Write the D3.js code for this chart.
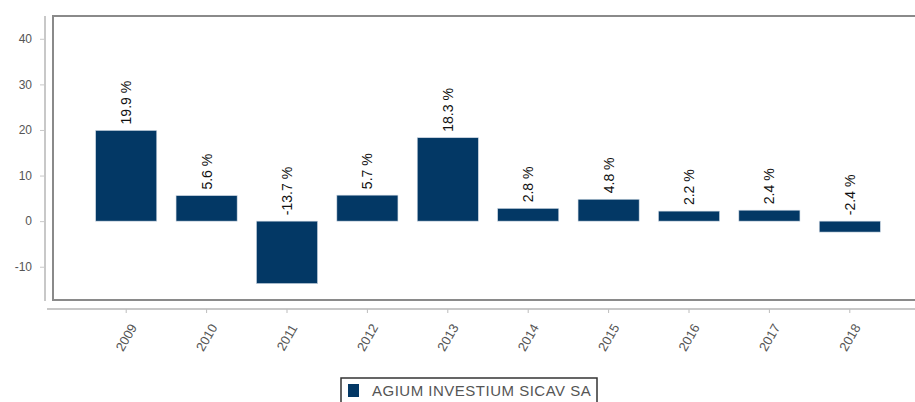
<!DOCTYPE html>
<html>
  <head>
    <meta charset="utf-8">
    <style>
      body { margin: 0; background: #fff; }
      svg { display: block; font-family: "Liberation Sans", Arial, sans-serif; }
    </style>
  </head>
  <body>
    <svg width="915" height="402"></svg>
    <script src="https://cdn.jsdelivr.net/npm/d3@7"></script>
    <script>
      var years = ["2009", "2010", "2011", "2012", "2013", "2014", "2015", "2016", "2017", "2018"];
      var returns = [19.9, 5.6, -13.7, 5.7, 18.3, 2.8, 4.8, 2.2, 2.4, -2.4];
      var yTicks = [-10, 0, 10, 20, 30, 40];
      var seriesName = "AGIUM INVESTIUM SICAV SA";

      var svg = d3.select("svg");
      var navy = "#033865";

      var y = d3.scaleLinear().domain([-17.3, 45]).range([300, 16]);
      var x = d3.scaleBand()
        .domain(years)
        .range([86, 890])
        .paddingInner(0.24)
        .paddingOuter(0.12);

      // plot frame
      svg.append("rect")
        .attr("x", 53).attr("y", 16)
        .attr("width", 880).attr("height", 284)
        .attr("fill", "none")
        .attr("stroke", "#8a8a8a")
        .attr("stroke-width", 2);

      // y axis
      var yAxis = svg.append("g")
        .attr("transform", "translate(45,0)")
        .call(d3.axisLeft(y).tickValues(yTicks).tickSize(5).tickPadding(8)
          .tickFormat(function(d) { return String(d); }));
      yAxis.select(".domain").attr("d", "M0,16V301").attr("stroke", "#c8c8c8").attr("stroke-width", 2);
      yAxis.selectAll(".tick line").attr("stroke", "#c8c8c8");
      yAxis.selectAll(".tick text")
        .attr("fill", "#555")
        .attr("font-size", 12)
        .attr("font-family", "Liberation Sans, Arial, sans-serif");

      // x axis
      var xAxis = svg.append("g")
        .attr("transform", "translate(0,309)")
        .call(d3.axisBottom(x).tickSize(4).tickSizeOuter(0));
      xAxis.select(".domain").attr("d", "M47,0H915").attr("stroke", "#c8c8c8").attr("stroke-width", 2);
      xAxis.selectAll(".tick line").attr("stroke", "#bdbdbd");
      xAxis.selectAll(".tick text")
        .attr("fill", "#555")
        .attr("font-size", 13)
        .attr("font-family", "Liberation Sans, Arial, sans-serif")
        .attr("text-anchor", "middle")
        .attr("dy", null)
        .attr("y", null)
        .attr("transform", "translate(1,29) rotate(-60)")
        .attr("dominant-baseline", "middle");

      var data = years.map(function(d, i) { return { year: d, value: returns[i] }; });

      svg.selectAll(".bar")
        .data(data)
        .enter()
        .append("rect")
        .attr("class", "bar")
        .attr("x", function(d) { return x(d.year); })
        .attr("width", x.bandwidth())
        .attr("y", function(d) { return y(Math.max(0, d.value)); })
        .attr("height", function(d) { return Math.abs(y(d.value) - y(0)); })
        .attr("fill", navy)
        .attr("stroke", "#cfd9e4")
        .attr("stroke-width", 0.6);

      svg.selectAll(".lbl")
        .data(data)
        .enter()
        .append("text")
        .attr("class", "lbl")
        .attr("transform", function(d) {
          var cx = x(d.year) + x.bandwidth() / 2;
          var cy = Math.min(y(d.value), y(0)) - 6;
          return "translate(" + (cx + 5) + "," + cy + ") rotate(-90)";
        })
        .attr("font-size", 14)
        .attr("fill", "#111")
        .text(function(d) { return d.value.toFixed(1) + " %"; });

      // legend
      var lg = svg.append("g").attr("transform", "translate(341,378)");
      lg.append("rect")
        .attr("width", 256).attr("height", 30)
        .attr("fill", "#fff")
        .attr("stroke", "#333")
        .attr("stroke-width", 1.5);
      lg.append("rect")
        .attr("x", 7).attr("y", 6)
        .attr("width", 11).attr("height", 13)
        .attr("fill", navy);
      lg.append("text")
        .attr("x", 31).attr("y", 18)
        .attr("font-size", 15)
        .attr("letter-spacing", 0.5)
        .attr("fill", "#555")
        .text(seriesName);
    </script>
  </body>
</html>
